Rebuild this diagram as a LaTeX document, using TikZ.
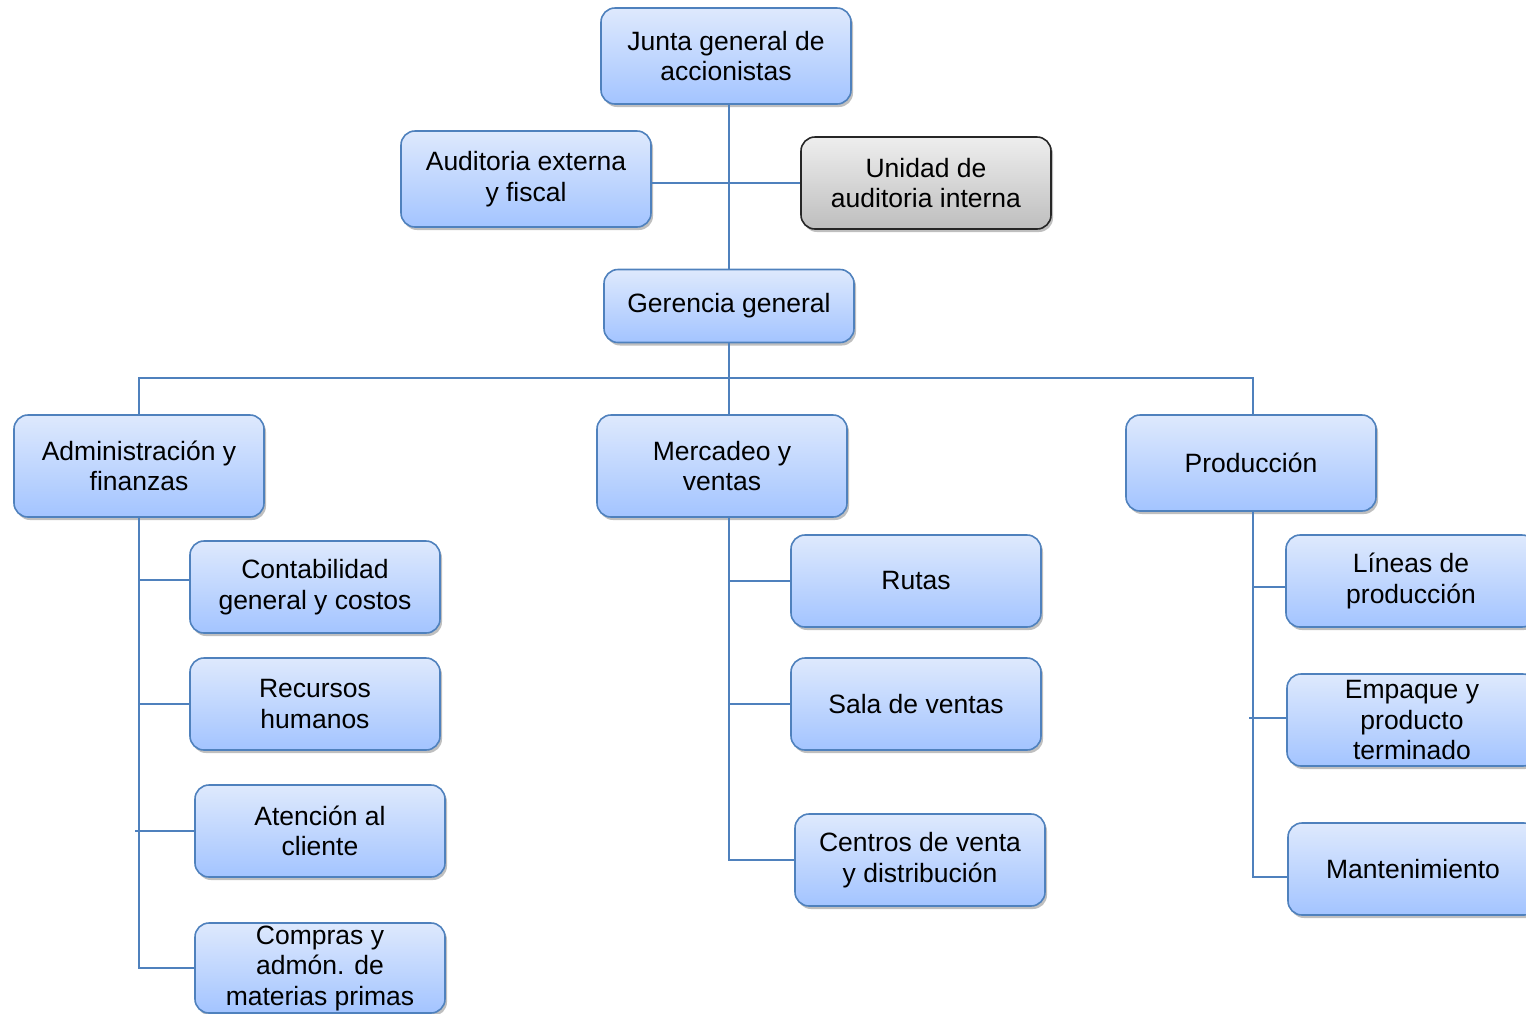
\documentclass[tikz,border=0pt]{standalone}
\usepackage{fontspec}
\setmainfont{Liberation Sans}
\usepackage{tikz}
\usetikzlibrary{shadows}
\definecolor{box_top}{RGB}{222,233,253}
\definecolor{box_bot}{RGB}{163,196,255}
\definecolor{edge_blue}{RGB}{79,129,189}
\definecolor{grey_top}{RGB}{238,238,238}
\definecolor{grey_bot}{RGB}{190,190,190}

\begin{document}
\begin{tikzpicture}[x=1pt,y=-1pt,line width=1.6pt]
    \tikzstyle{unit}=[draw=edge_blue, rectangle, rounded corners=14pt, minimum width=250pt, minimum height=92pt,
      inner sep=0pt, align=center, text=black, top color=box_top, bottom color=box_bot,
      font=\fontsize{26.5}{30.5}\selectfont,
      drop shadow={shadow xshift=2pt, shadow yshift=-3pt, opacity=0.25, fill=black}]
    \tikzstyle{unitgrey}=[style=unit, draw=black!85, top color=grey_top, bottom color=grey_bot]
    \tikzstyle{link}=[draw=edge_blue, line width=1.6pt]

    \useasboundingbox (0,0) rectangle (1526,1013);
    \clip (0,0) rectangle (1526,1013);

    \node[unit, minimum height=96pt]  (jun) at (726,56)  {Junta general de\\accionistas};
    \node[unit, minimum height=96pt]  (aud) at (526,179) {Auditoria externa\\y fiscal};
    \node[unitgrey]                   (uni) at (926,183) {Unidad de\\auditoria interna};
    \node[unit, minimum height=73pt]  (ger) at (729,306) {Gerencia general};

    \node[unit, minimum height=102pt] (adm) at (139,466)  {Administración y\\finanzas};
    \node[unit, minimum height=102pt] (mer) at (722,466)  {Mercadeo y\\ventas};
    \node[unit, minimum height=96pt]  (pro) at (1251,463) {Producción};

    \node[unit] (con) at (315,587) {Contabilidad\\general y costos};
    \node[unit] (rec) at (315,704) {Recursos\\humanos};
    \node[unit] (ate) at (320,831) {Atención al\\cliente};
    \node[unit, minimum height=90pt] (com) at (320,968) {Compras y\\admón. de\\materias primas};

    \node[unit] (rut) at (916,581) {Rutas};
    \node[unit] (sal) at (916,704) {Sala de ventas};
    \node[unit] (cen) at (920,860) {Centros de venta\\y distribución};

    \node[unit] (lin) at (1411,581) {Líneas de\\producción};
    \node[unit] (emp) at (1412,720) {Empaque y\\producto\\terminado};
    \node[unit] (man) at (1413,869) {Mantenimiento};

    \coordinate (bus) at (729,378);
    \coordinate (ax)  at (139,517);
    \coordinate (mx)  at (729,517);
    \coordinate (px)  at (1253,511);
    \coordinate (atetick) at (135,831);
    \coordinate (emptick) at (1249,718);

    % upper part
    \draw[link] (jun.south -| bus) -- (ger.north -| bus);
    \draw[link] (aud.east |- uni.west) -- (uni.west);
    \draw[link] (ger.south -| bus) -- (mer.north -| bus);
    \draw[link] (adm.north) |- (bus) -| (px |- pro.north);

    % branches
    \draw[link] (ax) |- (com.west);
    \draw[link] (ax |- con.west) ++(0,-7) -- ([yshift=7pt]con.west);
    \draw[link] (ax |- rec.west) -- (rec.west);
    \draw[link] (atetick) -- (ate.west);

    \draw[link] (mx) |- (cen.west);
    \draw[link] (mx |- rut.west) -- (rut.west);
    \draw[link] (mx |- sal.west) -- (sal.west);

    \draw[link] (px) |- ([yshift=-8pt]man.west);
    \draw[link] (px |- lin.west) ++(0,6) -- ([yshift=-6pt]lin.west);
    \draw[link] (emptick) -- ([yshift=2pt]emp.west);
\end{tikzpicture}
\end{document}
